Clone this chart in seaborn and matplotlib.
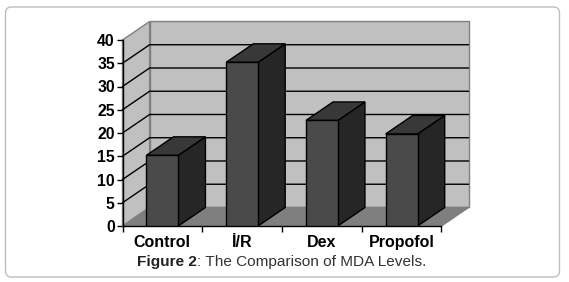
import matplotlib
matplotlib.use('Agg')
import pandas as pd
import seaborn as sns
import matplotlib.pyplot as plt
from matplotlib.patches import FancyBboxPatch, Polygon
from matplotlib.transforms import IdentityTransform

# Values
categorias = ['Control', 'İ/R', 'Dex', 'Propofol']
valores = [15.2, 35.2, 22.7, 19.8]
ticks_y = [0, 5, 10, 15, 20, 25, 30, 35, 40]

df = pd.DataFrame({'grupo': categorias, 'mda': valores})

sns.set_theme(style='white')
plt.rcParams['font.family'] = ['Liberation Sans', 'DejaVu Sans']

fig = plt.figure(figsize=(5.69, 2.82), dpi=100)
ax = fig.add_axes([122.5 / 569, 1 - 226 / 282, 319 / 569, 186 / 282])
ax.patch.set_alpha(0)

# Rounded frame around the figure
moldura = FancyBboxPatch((5.5, 5), 554, 270, boxstyle='round,pad=0,rounding_size=6',
                         transform=IdentityTransform(), fc='white', ec='#bdbdbd', lw=1.0, zorder=-5)
fig.add_artist(moldura)

# Front faces of the bars
sns.barplot(data=df, x='grupo', y='mda', width=0.4, color='#4a4a4a', saturation=1,
            edgecolor='black', linewidth=1, ax=ax, zorder=3)

x0, x1 = -0.5, 3.5
ax.set_xlim(x0, x1)
ax.set_ylim(0, 40)

# 3D depth offset in data units
dx = 0.34
dy = 3.98
topo = ticks_y[-1]


def face(pts, fc, ec, z, lw=1.0):
    ax.add_patch(Polygon(pts, closed=True, fc=fc, ec=ec, lw=lw, zorder=z, clip_on=False))


# Walls and floor
parede = '#c0c0c0'
cinza = '#808080'
face([(x0, 0), (x0 + dx, dy), (x0 + dx, topo + dy), (x0, topo)], parede, cinza, 0.5)
face([(x0 + dx, dy), (x1 + dx, dy), (x1 + dx, topo + dy), (x0 + dx, topo + dy)], parede, cinza, 0.5)
face([(x0, 0), (x1, 0), (x1 + dx, dy), (x0 + dx, dy)], '#7f7f7f', cinza, 0.6)

# Gridlines on both walls
for t in ticks_y[1:-1]:
    ax.plot([x0, x0 + dx, x1 + dx], [t, t + dy, t + dy], color='black', lw=1,
            zorder=0.8, clip_on=False, solid_joinstyle='miter')

# Sides and tops of the bars
for i, v in enumerate(valores):
    a, b = i - 0.2, i + 0.2
    face([(b, 0), (b + dx, dy), (b + dx, v + dy), (b, v)], '#262626', 'black', 2)
    face([(a, v), (b, v), (b + dx, v + dy), (a + dx, v + dy)], '#383838', 'black', 2)

# Axes, ticks and labels
ax.set_xlabel('')
ax.set_ylabel('')
ax.set_yticks(ticks_y)
ax.set_xticks([x0, 0.5, 1.5, 2.5, x1])
ax.set_xticklabels([])
ax.set_xticks(range(len(categorias)), categorias, minor=True)
ax.tick_params(axis='y', left=True, length=4, width=1, color='black', pad=1.5, labelsize=11.3, labelcolor='black')
ax.tick_params(axis='x', which='major', bottom=True, length=4, width=1, color='black')
ax.tick_params(axis='x', which='minor', bottom=False, pad=2.8, labelsize=11.5, labelcolor='black')
for rot in ax.get_yticklabels() + ax.get_xticklabels(minor=True):
    rot.set_fontweight('bold')
sns.despine(ax=ax, top=True, right=True)
for s in ['left', 'bottom']:
    ax.spines[s].set_color('black')
    ax.spines[s].set_linewidth(1)
    ax.spines[s].set_zorder(1)

# Caption, bold part followed by the regular part
fig.canvas.draw()
r = fig.canvas.get_renderer()
t1 = fig.text(137 / 569, 1 - 262 / 282, 'Figure 2', fontsize=11.1, fontweight='bold',
              color='#222222', va='center', ha='left')
w = t1.get_window_extent(r).width
fig.text((137 + w) / 569, 1 - 262 / 282, ': The Comparison of MDA Levels.', fontsize=11.1,
         color='#333333', va='center', ha='left')

fig.savefig('out.png', dpi=100)
